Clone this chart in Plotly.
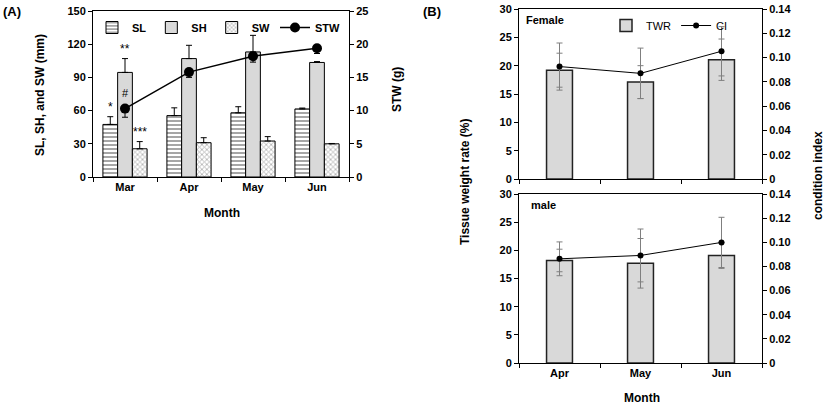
import plotly.graph_objects as go

# ---------------- data ----------------
months_a = ["Mar", "Apr", "May", "Jun"]
sl = [47.5, 55.5, 58.0, 61.5]
sl_err = [7.0, 7.0, 5.5, 0.8]
sh = [94.5, 107.0, 113.0, 103.5]
sh_err = [12.5, 12.0, 15.0, 0.8]
sw = [25.5, 31.0, 32.5, 30.0]
sw_err = [6.5, 4.5, 4.0, 0.3]
stw = [10.3, 15.8, 18.2, 19.4]
stw_err = [1.3, 0.8, 0.9, 0.8]
sig_marks = ["*", "**", "***", "#"]

months_b = ["Apr", "May", "Jun"]
twr_f = [19.2, 17.1, 21.05]
twr_f_err = [3.0, 2.9, 3.65]
ci_f = [0.0926, 0.0870, 0.1052]
ci_f_err = [0.0194, 0.0208, 0.0203]
twr_m = [18.2, 17.7, 19.1]
twr_m_err = [2.0, 4.4, 2.3]
ci_m = [0.0863, 0.0891, 0.0999]
ci_m_err = [0.0140, 0.0219, 0.0208]

ci_ticks = [0, 0.02, 0.04, 0.06, 0.08, 0.10, 0.12, 0.14]
ci_ticklabels = ["0", "0.02", "0.04", "0.06", "0.08", "0.10", "0.12", "0.14"]

FONT = "Liberation Sans, Arial, sans-serif"
W, H = 827, 406


def px_x(x):
    return x / W


def px_y(y):
    return 1 - y / H


fig = go.Figure()

bar_line = dict(color="black", width=1)
err_a = dict(type="data", symmetric=False, thickness=1, width=3, color="black")

fig.add_trace(go.Bar(
    x=months_a, y=sl, name="SL", xaxis="x", yaxis="y",
    marker=dict(color="white", line=bar_line,
                pattern=dict(shape="-", fgcolor="black", bgcolor="white", size=4, solidity=0.35)),
    error_y=dict(err_a, array=sl_err, arrayminus=[0] * 4),
    legend="legend"))
fig.add_trace(go.Bar(
    x=months_a, y=sh, name="SH", xaxis="x", yaxis="y",
    marker=dict(color="#d9d9d9", line=bar_line),
    error_y=dict(err_a, array=sh_err, arrayminus=[0] * 4),
    legend="legend"))
fig.add_trace(go.Bar(
    x=months_a, y=sw, name="SW", xaxis="x", yaxis="y",
    marker=dict(color="white", line=bar_line,
                pattern=dict(shape="x", fgcolor="#555555", bgcolor="white", size=3.5, solidity=0.4)),
    error_y=dict(err_a, array=sw_err, arrayminus=[0] * 4),
    legend="legend"))
fig.add_trace(go.Scatter(
    x=months_a, y=stw, name="STW", xaxis="x", yaxis="y2", mode="lines+markers",
    line=dict(color="black", width=1.5), marker=dict(color="black", size=10),
    error_y=dict(err_a, array=[0] * 4, arrayminus=stw_err),
    legend="legend"))

# panel B
err_b = dict(type="data", symmetric=True, thickness=1, width=3, color="#7f7f7f")
bar_b = dict(color="#d9d9d9", line=dict(color="#222222", width=1.5))

fig.add_trace(go.Bar(
    x=months_b, y=twr_f, name="TWR", xaxis="x2", yaxis="y3", width=0.32,
    marker=bar_b, error_y=dict(err_b, array=twr_f_err), legend="legend2"))
fig.add_trace(go.Scatter(
    x=months_b, y=ci_f, name="CI", xaxis="x2", yaxis="y4", mode="lines+markers",
    line=dict(color="black", width=1), marker=dict(color="black", size=6),
    error_y=dict(err_b, array=ci_f_err), legend="legend2"))
fig.add_trace(go.Bar(
    x=months_b, y=twr_m, name="TWR", xaxis="x3", yaxis="y5", width=0.32,
    marker=bar_b, error_y=dict(err_b, array=twr_m_err), showlegend=False))
fig.add_trace(go.Scatter(
    x=months_b, y=ci_m, name="CI", xaxis="x3", yaxis="y6", mode="lines+markers",
    line=dict(color="black", width=1), marker=dict(color="black", size=6),
    error_y=dict(err_b, array=ci_m_err), showlegend=False))

tickfont = dict(family=FONT, size=11, color="black", weight="bold")
ax_common = dict(showline=True, linecolor="black", linewidth=1, ticks="outside",
                 ticklen=4, tickcolor="black", tickwidth=1, showgrid=False,
                 zeroline=False, automargin=False, tickfont=tickfont)

xa_dom = [px_x(93), px_x(349)]
ya_dom = [px_y(177), px_y(11)]
xb_dom = [px_x(519), px_x(762)]
yb1_dom = [px_y(179), px_y(9)]
yb2_dom = [px_y(363), px_y(194)]

fig.update_layout(
    width=W, height=H, margin=dict(l=0, r=0, t=0, b=0),
    paper_bgcolor="white", plot_bgcolor="white",
    barmode="group", bargap=0.31, bargroupgap=0,
    font=dict(family=FONT, size=11, color="black"),
    xaxis=dict(ax_common, domain=xa_dom, anchor="y", tickson="boundaries", mirror=True,
               range=[-0.5, 3.5]),
    yaxis=dict(ax_common, domain=ya_dom, anchor="x", range=[0, 150], dtick=30),
    yaxis2=dict(ax_common, overlaying="y", side="right", anchor="x", range=[0, 25], dtick=5),
    xaxis2=dict(ax_common, domain=xb_dom, anchor="y3", tickson="boundaries", mirror=True,
                showticklabels=False, range=[-0.5, 2.5]),
    yaxis3=dict(ax_common, domain=yb1_dom, anchor="x2", range=[0, 30], dtick=5),
    yaxis4=dict(ax_common, overlaying="y3", side="right", anchor="x2", range=[0, 0.14],
                tickvals=ci_ticks, ticktext=ci_ticklabels),
    xaxis3=dict(ax_common, domain=xb_dom, anchor="y5", tickson="boundaries", mirror=True,
                range=[-0.5, 2.5]),
    yaxis5=dict(ax_common, domain=yb2_dom, anchor="x3", range=[0, 30], dtick=5),
    yaxis6=dict(ax_common, overlaying="y5", side="right", anchor="x3", range=[0, 0.14],
                tickvals=ci_ticks, ticktext=ci_ticklabels),
    legend=dict(orientation="h", x=px_x(92), y=px_y(13), xanchor="left", yanchor="top",
                bgcolor="rgba(0,0,0,0)", font=dict(family=FONT, size=11, weight="bold"),
                itemwidth=30, tracegroupgap=0),
    legend2=dict(orientation="h", x=px_x(606), y=px_y(11), xanchor="left", yanchor="top",
                 bgcolor="rgba(0,0,0,0)", font=dict(family=FONT, size=11),
                 itemwidth=30),
)

ann = []


def add_text(text, x, y, size=12, angle=0, bold=True):
    ann.append(dict(text=text, x=px_x(x), y=px_y(y), xref="paper", yref="paper",
                    showarrow=False, textangle=angle, xanchor="center", yanchor="middle",
                    font=dict(family=FONT, size=size, color="black",
                              weight="bold" if bold else "normal")))


add_text("(A)", 12, 12, size=13)
add_text("(B)", 432, 12, size=13)
add_text("SL, SH, and SW (mm)", 40, 95, angle=-90)
add_text("STW (g)", 397, 90, angle=-90)
add_text("Month", 222, 213)
add_text("Tissue weight rate (%)", 465, 182, angle=-90)
add_text("condition index", 818, 176, angle=-90)
add_text("Month", 642, 398)
add_text("Female", 545, 20, size=11)
add_text("male", 543, 205, size=11)

# significance marks for March, attached to data positions
sig_y = [sl[0] + sl_err[0], sh[0] + sh_err[0], sw[0] + sw_err[0]]
sig_shift = [-15, 0, 15]
for mark, yv, sh_px in zip(sig_marks[:3], sig_y, sig_shift):
    ann.append(dict(text=mark, x=months_a[0], y=yv, xref="x", yref="y", showarrow=False,
                    xshift=sh_px, yshift=1, yanchor="bottom",
                    font=dict(family=FONT, size=12, color="black")))
ann.append(dict(text=sig_marks[3], x=months_a[0], y=stw[0], xref="x", yref="y2",
                showarrow=False, yshift=8, yanchor="bottom",
                font=dict(family=FONT, size=11, color="black")))

fig.update_layout(annotations=ann)
fig.write_html("out.html")
